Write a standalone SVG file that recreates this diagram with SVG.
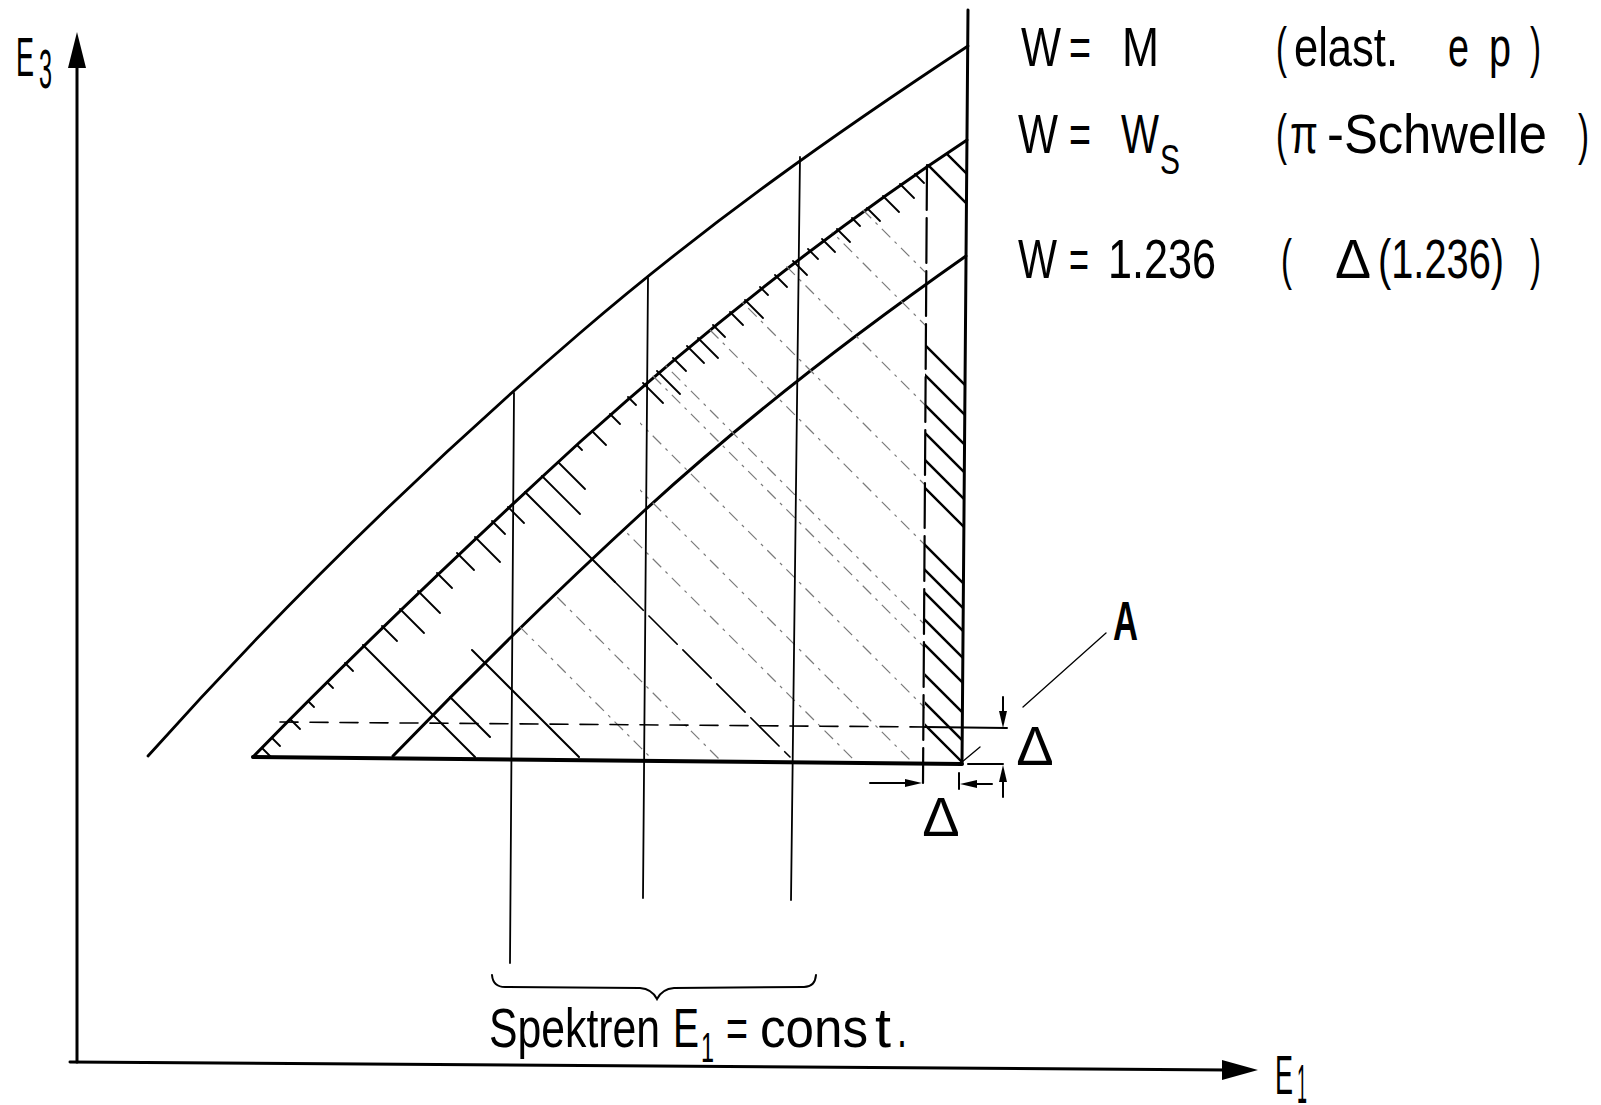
<svg xmlns="http://www.w3.org/2000/svg" width="1601" height="1105" viewBox="0 0 1601 1105">
<defs>
<style>
.t{font-family:"Liberation Sans","DejaVu Sans",sans-serif;font-size:56px;fill:#000}
.sub{font-size:42px}
.ln{stroke:#000;fill:none;stroke-linecap:round}
.curve{stroke-width:2.8}
.thin{stroke-width:1.8}
.tick{stroke:#000;stroke-width:1.8;fill:none;stroke-linecap:round}
.faint{stroke:#7a7a7a;stroke-width:1.2;stroke-dasharray:12 6 3 6;fill:none}
.strip{stroke:#000;stroke-width:2.4;fill:none}
.ah{fill:#000;stroke:none}
</style>
<clipPath id="cFaint"><polygon points="520,627 603,550 640,515 640,385 648,378 800,255 925,166 925,761 520,758"/></clipPath>
<clipPath id="cStrip"><polygon points="925,166 930,163 967,140 962,763 925,762"/></clipPath>
</defs>
<rect width="1601" height="1105" fill="#fff"/>

<g id="axes">
<line class="ln" x1="77" y1="1062" x2="77" y2="62" stroke-width="3"/>
<polygon class="ah" points="77,32 68,68 86,68"/>
<line class="ln" x1="70" y1="1062" x2="1228" y2="1070" stroke-width="3"/>
<polygon class="ah" points="1258,1070 1222,1060 1222,1080"/>
</g>

<g id="label-E3">
<text class="t" x="16" y="76" font-size="60" textLength="18" lengthAdjust="spacingAndGlyphs">E</text>
<text class="t" x="39" y="88" font-size="44" textLength="13" lengthAdjust="spacingAndGlyphs">3</text>
</g>
<g id="label-E1">
<text class="t" x="1275" y="1094" font-size="60" textLength="18" lengthAdjust="spacingAndGlyphs">E</text>
<text class="t" x="1297" y="1103" font-size="36" textLength="10" lengthAdjust="spacingAndGlyphs">1</text>
</g>

<g id="curves">
<path id="curve-M" class="ln curve" d="M148,756 C292,595 436,457 580,333 C709,222 839,131 968,46"/>
<path id="curve-Ws" class="ln" stroke-width="3" d="M253,757 C362,645 471,542 580,442 C709,326 838,225 967,140"/>
<path id="curve-1236" class="ln" stroke-width="3" d="M393,756 C477,669 561,587 645,510 C752,412 859,331 966,256"/>
<line id="baseline" class="ln" x1="253" y1="757" x2="962" y2="764" stroke-width="4"/>
<line id="right-edge" class="ln" x1="968" y1="10" x2="962" y2="764" stroke-width="3"/>
</g>

<g id="hatching">
<path class="tick" d="M262,748 l9,9 M272,738 l8,8 M290,719 l10,10 M308,701 l6,6 M327,682 l6,6 M345,663 l8,8 M382,626 l15,15 M400,609 l24,24 M418,591 l22,22 M437,573 l15,15 M457,553 l17,17 M475,537 l25,25 M492,521 l13,13 M508,507 l16,16 M542,476 l38,38 M558,462 l27,27 M577,445 l5,5 M592,431 l14,14 M610,414 l10,10 M628,397 l8,8 M643,383 l20,20 M657,371 l23,23 M673,358 l13,13 M687,346 l17,17 M698,338 l20,20 M713,325 l12,12 M730,312 l13,13 M745,300 l18,18 M760,287 l8,8 M775,275 l12,12 M793,261 l14,14 M808,249 l10,10 M822,239 l13,13 M837,229 l13,13 M852,218 l8,8 M867,208 l13,13 M883,196 l16,16 M900,184 l14,14 M915,174 l9,9"/>
<path class="ln" stroke-width="2" d="M363,645 L475,757 M472,650 L579,757 M450,697 L490,737 M525,492 L615,582"/>
<path class="ln" stroke-width="1.6" stroke-dasharray="40 8" d="M615,582 L790,757"/>
<g clip-path="url(#cFaint)">
<path class="faint" d="M500,607 L930,1037 M500,540 L930,970 M500,406 L930,836 M500,350 L930,780 M500,283 L930,713 M500,223 L930,653 M500,200 L930,630 M500,120 L930,550 M500,60 L930,490 M500,-20 L930,410 M500,-100 L930,330 M500,-153 L930,277"/>
</g>
<g clip-path="url(#cStrip)">
<path class="strip" d="M920,127 L970,177 M920,157 L970,207 M920,340 L970,390 M920,370 L970,420 M920,400 L970,450 M920,428 L970,478 M920,455 L970,505 M920,483 L970,533 M920,540 L970,590 M920,565 L970,615 M920,588 L970,638 M920,615 L970,665 M920,640 L970,690 M920,670 L970,720 M920,698 L970,748 M920,720 L970,770"/>
</g>
</g>

<g id="connectors">
<line class="ln thin" x1="514" y1="393" x2="510" y2="963"/>
<line class="ln thin" x1="648" y1="278" x2="643" y2="898"/>
<line class="ln thin" x1="800" y1="157" x2="791" y2="900"/>
<line class="ln" stroke-width="2.2" stroke-dasharray="45 8" x1="927" y1="165" x2="923" y2="783"/>
<line class="ln" stroke-width="1.6" stroke-dasharray="18 12" x1="280" y1="722" x2="925" y2="727"/>
<line class="ln" stroke-width="2" x1="925" y1="727" x2="1007" y2="728"/>
<line class="ln" stroke-width="2" x1="968" y1="764" x2="1003" y2="764"/>
<line class="ln" stroke-width="2" x1="1003" y1="697" x2="1003" y2="712"/>
<polygon class="ah" points="1003,728 999,711 1007,711"/>
<line class="ln" stroke-width="2" x1="1003" y1="797" x2="1003" y2="780"/>
<polygon class="ah" points="1003,765 999,782 1007,782"/>
<line class="ln" stroke-width="2" x1="870" y1="783" x2="907" y2="783"/>
<polygon class="ah" points="922,783 905,779 905,787"/>
<line class="ln" stroke-width="2" x1="992" y1="784" x2="976" y2="784"/>
<polygon class="ah" points="960,784 977,780 977,788"/>
<line class="ln" stroke-width="2" x1="959" y1="773" x2="959" y2="789"/>
<path class="ln" stroke-width="1.3" d="M1106,633 L1023,707 M962,762 L980,747"/>
<path id="brace" class="ln" stroke-width="2" d="M492,975 Q493,987 505,987 L640,988 Q652,989 657,999 Q662,989 674,988 L804,987 Q815,987 816,975"/>
</g>

<g id="label-W-M">
<text class="t" x="1021" y="66" textLength="40" lengthAdjust="spacingAndGlyphs">W</text>
<text class="t" x="1069" y="66" textLength="22" lengthAdjust="spacingAndGlyphs">=</text>
<text class="t" x="1122" y="66" textLength="37" lengthAdjust="spacingAndGlyphs">M</text>
<text class="t" x="1276" y="66" textLength="11" lengthAdjust="spacingAndGlyphs">(</text>
<text class="t" x="1294" y="66" textLength="104" lengthAdjust="spacingAndGlyphs">elast.</text>
<text class="t" x="1448" y="66" textLength="21" lengthAdjust="spacingAndGlyphs">e</text>
<text class="t" x="1489" y="66" textLength="22" lengthAdjust="spacingAndGlyphs">p</text>
<text class="t" x="1530" y="66" textLength="11" lengthAdjust="spacingAndGlyphs">)</text>
</g>
<g id="label-W-Ws">
<text class="t" x="1018" y="153" textLength="40" lengthAdjust="spacingAndGlyphs">W</text>
<text class="t" x="1069" y="153" textLength="22" lengthAdjust="spacingAndGlyphs">=</text>
<text class="t" x="1121" y="153" textLength="38" lengthAdjust="spacingAndGlyphs">W</text>
<text class="t sub" x="1160" y="174" textLength="20" lengthAdjust="spacingAndGlyphs">S</text>
<text class="t" x="1276" y="153" textLength="11" lengthAdjust="spacingAndGlyphs">(</text>
<text class="t" x="1290" y="153" textLength="28" lengthAdjust="spacingAndGlyphs">π</text>
<text class="t" x="1327" y="153" textLength="220" lengthAdjust="spacingAndGlyphs">-Schwelle</text>
<text class="t" x="1578" y="153" textLength="11" lengthAdjust="spacingAndGlyphs">)</text>
</g>
<g id="label-W-1236">
<text class="t" x="1018" y="278" textLength="39" lengthAdjust="spacingAndGlyphs">W</text>
<text class="t" x="1069" y="278" textLength="20" lengthAdjust="spacingAndGlyphs">=</text>
<text class="t" x="1108" y="278" textLength="108" lengthAdjust="spacingAndGlyphs">1.236</text>
<text class="t" x="1281" y="278" textLength="11" lengthAdjust="spacingAndGlyphs">(</text>
<text class="t" x="1335" y="278" textLength="36" lengthAdjust="spacingAndGlyphs">Δ</text>
<text class="t" x="1378" y="278" textLength="126" lengthAdjust="spacingAndGlyphs">(1.236)</text>
<text class="t" x="1530" y="278" textLength="11" lengthAdjust="spacingAndGlyphs">)</text>
</g>
<g id="label-A">
<text class="t" x="1113" y="640" font-size="46" font-weight="bold" textLength="25" lengthAdjust="spacingAndGlyphs">A</text>
</g>
<g id="label-delta-right">
<text class="t" x="1035" y="765" font-size="46" text-anchor="middle">Δ</text>
</g>
<g id="label-delta-bottom">
<text class="t" x="941" y="836" font-size="46" text-anchor="middle">Δ</text>
</g>
<g id="label-spektren">
<text class="t" x="489" y="1047" textLength="171" lengthAdjust="spacingAndGlyphs">Spektren</text>
<text class="t" x="673" y="1047" textLength="26" lengthAdjust="spacingAndGlyphs">E</text>
<text class="t sub" x="701" y="1062" textLength="13" lengthAdjust="spacingAndGlyphs">1</text>
<text class="t" x="726" y="1047" textLength="22" lengthAdjust="spacingAndGlyphs">=</text>
<text class="t" x="760" y="1047" textLength="108" lengthAdjust="spacingAndGlyphs">cons</text>
<text class="t" x="875" y="1047" textLength="16" lengthAdjust="spacingAndGlyphs">t</text>
<text class="t" x="897" y="1047" textLength="10" lengthAdjust="spacingAndGlyphs">.</text>
</g>
</svg>
